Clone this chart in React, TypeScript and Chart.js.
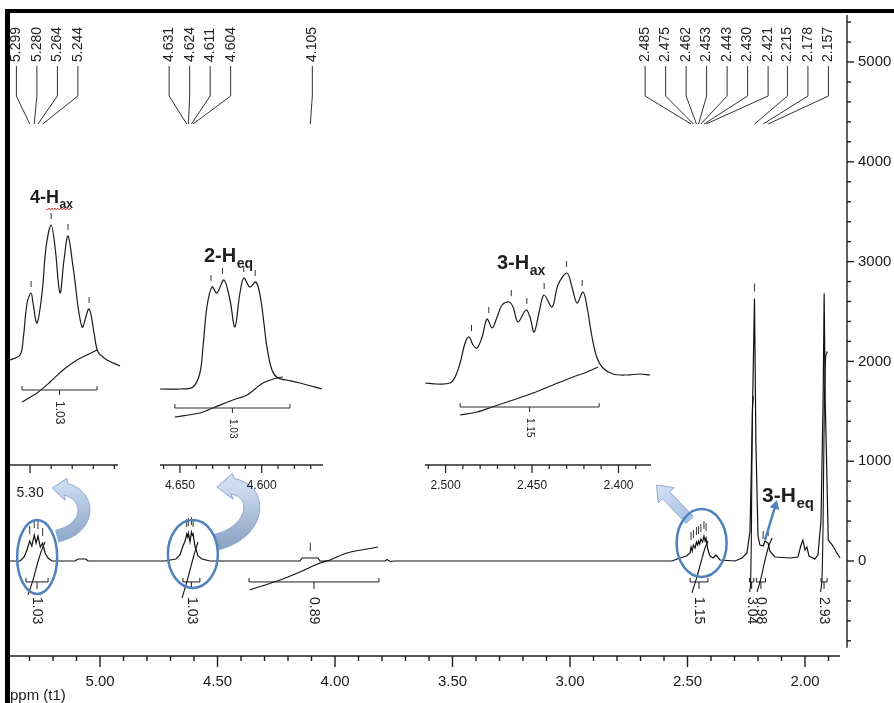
import React, { useEffect, useRef } from "react";
import { Chart, registerables } from "chart.js";

Chart.register(...registerables);

const FONT = "'Liberation Sans', Arial, Helvetica, sans-serif";
Chart.defaults.font.family = FONT;

// ---------------- main spectrum (ppm / intensity) ----------------
const mainPpm = [
  5.383, 5.34, 5.323, 5.311, 5.299, 5.29, 5.28, 5.272, 5.264, 5.254, 5.244, 5.234, 5.221, 5.204,
  5.106, 5.094, 5.06, 5.051, 4.723, 4.677, 4.66, 4.647, 4.638, 4.631, 4.627, 4.624, 4.617, 4.611,
  4.607, 4.604, 4.595, 4.583, 4.566, 4.532, 4.149, 4.14, 4.072, 4.064, 3.787, 3.779, 3.766, 3.75,
  2.566, 2.532, 2.505, 2.489, 2.485, 2.48, 2.475, 2.468, 2.462, 2.457, 2.453, 2.448, 2.443, 2.436,
  2.43, 2.425, 2.421, 2.413, 2.404, 2.391, 2.379, 2.362, 2.298, 2.268, 2.247, 2.234, 2.225, 2.215,
  2.209, 2.2, 2.192, 2.178, 2.17, 2.157, 2.15, 2.128, 2.064, 2.03, 2.017, 2.009, 2.0, 1.992, 1.983,
  1.958, 1.945, 1.932, 1.923, 1.9185, 1.914, 1.91, 1.901, 1.884, 1.867, 1.851,
];
const mainIntensity = [
  0, 0, 40, 110, 200, 150, 260, 180, 250, 140, 180, 80, 30, 0,
  0, 20, 20, 0, 0, 20, 60, 150, 200, 270, 240, 280, 190, 290,
  260, 270, 140, 50, 20, 0, 0, 30, 30, 0, 0, 15, -5, 0,
  0, 30, 50, 80, 140, 100, 160, 130, 190, 160, 200, 170, 220, 190,
  250, 200, 230, 110, 50, 30, 60, 10, 0, 30, 80, 300, 1300, 2630,
  1200, 250, 160, 150, 200, 180, 100, 40, 30, 40, 160, 210, 110, 140, 50,
  20, 60, 400, 1600, 2680, 1600, 1200, 210, 160, 90, 30,
];

// integral curves of the main spectrum
const integralPpm = [
  [5.306, 5.285, 5.268, 5.251, 5.234],
  [4.651, 4.634, 4.617, 4.6, 4.583],
  [4.362, 4.234, 4.149, 4.064, 4.021, 3.949, 3.817],
  [2.481, 2.46, 2.4425, 2.4255, 2.413],
  [2.236, 2.232, 2.228, 2.224, 2.22],
  [2.204, 2.187, 2.17, 2.153, 2.14],
  [1.934, 1.928, 1.923, 1.918, 1.912, 1.905],
];
const integralValue = [
  [-340, -190, -40, 90, 190],
  [-370, -240, -90, 60, 190],
  [-290, -190, -110, -20, 10, 80, 140],
  [-320, -160, -10, 130, 200],
  [-310, -250, 300, 1500, 1650],
  [-310, -170, 10, 160, 230],
  [-310, -200, 400, 1500, 2050, 2100],
];
const integralRanges = [
  [5.315, 5.221], [4.647, 4.575], [4.366, 3.813], [2.489, 2.413],
  [2.236, 2.218], [2.207, 2.168], [1.932, 1.906],
];
const integralLabels = ["1.03", "1.03", "0.89", "1.15", "3.04", "0.98", "2.93"];

const peakGroups = [
  [5.299, 5.28, 5.264, 5.244],
  [4.631, 4.624, 4.611, 4.604],
  [4.105],
  [2.485, 2.475, 2.462, 2.453, 2.443, 2.43, 2.421],
  [2.215, 2.178, 2.157],
];

const xTickLabels = ["5.00", "4.50", "4.00", "3.50", "3.00", "2.50", "2.00"];
const yTickLabels = ["0", "1000", "2000", "3000", "4000", "5000"];

// ---------------- inset 1 : 4-Hax ----------------
const inset1Ppm = [
  5.319, 5.3095, 5.3066, 5.3028, 5.299, 5.2972, 5.2934, 5.2886, 5.2848, 5.28, 5.2763,
  5.2716, 5.2678, 5.264, 5.2592, 5.2507, 5.2441, 5.2393, 5.2355, 5.227, 5.2166, 5.2147,
];
const inset1Intensity = [5, 10, 25, 62, 72, 62, 42, 72, 118, 140, 118, 72, 105, 129, 98, 38, 56, 32, 13, 5, 0, -1];
const inset1IntegralPpm = [5.3076, 5.2934, 5.281, 5.2687, 5.2555, 5.246, 5.2365];
const inset1IntegralValue = [-37, -28, -17, -5, 5, 10, 15];
const inset1Range = [5.3076, 5.2365];
const inset1TickLabels = ["5.30"];

// ---------------- inset 2 : 2-Heq ----------------
const inset2Ppm = [
  4.6622, 4.65, 4.642, 4.6378, 4.6359, 4.6335, 4.6304, 4.6274, 4.6231, 4.6194, 4.6164,
  4.6133, 4.6109, 4.6072, 4.6035, 4.6005, 4.5968, 4.5937, 4.5901, 4.5846, 4.5766, 4.5631,
];
const inset2Intensity = [-24, -24, -22, -8, 18, 58, 78, 72, 85, 65, 38, 72, 87, 78, 83, 65, 18, -5, -13, -15, -18, -24];
const inset2IntegralPpm = [4.6531, 4.6378, 4.6298, 4.6176, 4.609, 4.5992, 4.5907, 4.587];
const inset2IntegralValue = [-52, -48, -43, -35, -30, -18, -13, -12];
const inset2Range = [4.6531, 4.5827];
const inset2TickLabels = ["4.650", "4.600"];

// ---------------- inset 3 : 3-Hax ----------------
const inset3Ppm = [
  2.5118, 2.5049, 2.4974, 2.4945, 2.4916, 2.4887, 2.4864, 2.4841, 2.4818, 2.4789, 2.476, 2.4731,
  2.4702, 2.4673, 2.4633, 2.461, 2.4581, 2.4535, 2.4512, 2.4488, 2.446, 2.4431, 2.4384, 2.435,
  2.4298, 2.4269, 2.424, 2.4205, 2.4182, 2.4153, 2.4124, 2.409, 2.4032, 2.3951, 2.3876, 2.3818,
];
const inset3Intensity = [
  -18, -19, -18, -12, 2, 22, 28, 20, 17, 28, 46, 37, 48, 60, 63, 58, 43, 55, 48, 33, 52, 70, 58, 80,
  92, 78, 62, 73, 58, 28, 7, -3, -9, -10, -9, -10,
];
const inset3IntegralPpm = [2.4916, 2.4818, 2.4731, 2.461, 2.4494, 2.4379, 2.4263, 2.4182, 2.4118];
const inset3IntegralValue = [-50, -47, -42, -35, -28, -20, -12, -7, -2];
const inset3Range = [2.4916, 2.4112];
const inset3TickLabels = ["2.500", "2.450", "2.400"];

// ---------------- layout / style ----------------
const W = 894;
const H = 703;
const INK = "#1c1c1c";
const X_MIN = 1.8213;
const X_MAX = 5.383;
const Y_MIN = -952;
const Y_MAX = 5511;
const X_AXIS_END = 1.851;
const Y_AXIS_TOP = 5470;
const Y_AXIS_BOTTOM = -870;
const BRACKET_VALUE = -210;
const LABEL_GAP = 20.5;
const LABEL_SHIFT = [11, 10, 2, 8, 46];

const pts = (xs: number[], ys: number[]) => xs.map((x, i) => ({ x, y: ys[i] }));

function seg(ctx: CanvasRenderingContext2D, x1: number, y1: number, x2: number, y2: number) {
  ctx.beginPath();
  ctx.moveTo(x1, y1);
  ctx.lineTo(x2, y2);
  ctx.stroke();
}

function textUp(ctx: CanvasRenderingContext2D, s: string, x: number, yBottom: number, font: string) {
  ctx.save();
  ctx.translate(x, yBottom);
  ctx.rotate(-Math.PI / 2);
  ctx.font = font;
  ctx.textAlign = "left";
  ctx.textBaseline = "middle";
  ctx.fillText(s, 0, 0);
  ctx.restore();
}

function textDown(ctx: CanvasRenderingContext2D, s: string, x: number, yTop: number, font: string) {
  ctx.save();
  ctx.translate(x, yTop);
  ctx.rotate(Math.PI / 2);
  ctx.font = font;
  ctx.textAlign = "left";
  ctx.textBaseline = "middle";
  ctx.fillText(s, 0, 0);
  ctx.restore();
}

function peakHeight(xs: number[], ys: number[], p: number, tol: number) {
  let best = -Infinity;
  for (let i = 0; i < xs.length; i++) if (Math.abs(xs[i] - p) <= tol) best = Math.max(best, ys[i]);
  for (let i = 0; i < xs.length - 1; i++) {
    const a = xs[i], b = xs[i + 1];
    if ((p - a) * (p - b) <= 0 && a !== b) {
      const t = (p - a) / (b - a);
      best = Math.max(best, ys[i] + t * (ys[i + 1] - ys[i]));
    }
  }
  return best;
}

function drawTitle(ctx: CanvasRenderingContext2D, x: number, y: number, main: string, sub: string, size: number, subSize: number) {
  ctx.save();
  ctx.fillStyle = "#1f1f1f";
  ctx.textAlign = "left";
  ctx.textBaseline = "alphabetic";
  ctx.font = `bold ${size}px ${FONT}`;
  ctx.fillText(main, x, y);
  const w = ctx.measureText(main).width;
  const hw = ctx.measureText("H").width;
  ctx.font = `bold ${subSize}px ${FONT}`;
  ctx.fillText(sub, x + w + 0.5, y + size * 0.28);
  const sw = ctx.measureText(sub).width;
  ctx.restore();
  return { hStart: x + w - hw, end: x + w + 0.5 + sw };
}

function bezier(p: number[][], n: number) {
  const out: number[][] = [];
  for (let i = 0; i <= n; i++) {
    const t = i / n, u = 1 - t;
    out.push([
      u * u * u * p[0][0] + 3 * u * u * t * p[1][0] + 3 * u * t * t * p[2][0] + t * t * t * p[3][0],
      u * u * u * p[0][1] + 3 * u * u * t * p[1][1] + 3 * u * t * t * p[2][1] + t * t * t * p[3][1],
    ]);
  }
  return out;
}

function blockArrow(ctx: CanvasRenderingContext2D, line: number[][], halfW: number, headHalfW: number, headLen: number, c0: string, c1: string) {
  const L = [0];
  for (let i = 1; i < line.length; i++) L.push(L[i - 1] + Math.hypot(line[i][0] - line[i - 1][0], line[i][1] - line[i - 1][1]));
  const cut = L[L.length - 1] - headLen;
  const body: number[][] = [];
  for (let i = 0; i < line.length; i++) {
    if (L[i] <= cut) body.push(line[i]);
    else {
      const t = (cut - L[i - 1]) / (L[i] - L[i - 1]);
      body.push([line[i - 1][0] + t * (line[i][0] - line[i - 1][0]), line[i - 1][1] + t * (line[i][1] - line[i - 1][1])]);
      break;
    }
  }
  const tip = line[line.length - 1];
  const left: number[][] = [], right: number[][] = [];
  for (let i = 0; i < body.length; i++) {
    const a = body[Math.max(0, i - 1)], b = body[Math.min(body.length - 1, i + 1)];
    const dx = b[0] - a[0], dy = b[1] - a[1];
    const l = Math.hypot(dx, dy) || 1;
    const nx = -dy / l, ny = dx / l;
    left.push([body[i][0] + nx * halfW, body[i][1] + ny * halfW]);
    right.push([body[i][0] - nx * halfW, body[i][1] - ny * halfW]);
  }
  const B = body[body.length - 1];
  const dx = tip[0] - B[0], dy = tip[1] - B[1];
  const l = Math.hypot(dx, dy) || 1;
  const nx = -dy / l, ny = dx / l;
  ctx.save();
  const g = ctx.createLinearGradient(line[0][0], line[0][1], tip[0], tip[1]);
  g.addColorStop(0, c0);
  g.addColorStop(1, c1);
  ctx.beginPath();
  ctx.moveTo(left[0][0], left[0][1]);
  for (const p of left) ctx.lineTo(p[0], p[1]);
  ctx.lineTo(B[0] + nx * headHalfW, B[1] + ny * headHalfW);
  ctx.lineTo(tip[0], tip[1]);
  ctx.lineTo(B[0] - nx * headHalfW, B[1] - ny * headHalfW);
  for (let i = right.length - 1; i >= 0; i--) ctx.lineTo(right[i][0], right[i][1]);
  ctx.closePath();
  ctx.fillStyle = g;
  ctx.fill();
  ctx.strokeStyle = "#8ea9d2";
  ctx.lineWidth = 1;
  ctx.stroke();
  ctx.restore();
}

// ellipse highlight layout: group index, dx, dy, rx, ry
const HIGHLIGHTS = [
  { group: 0, dx: 1, dy: -4, rx: 20, ry: 37 },
  { group: 1, dx: 3, dy: -7, rx: 25, ry: 34 },
  { group: 3, dx: 3, dy: -18, rx: 25, ry: 34 },
];

const noScalePadding = (s: any, size: { height?: number; width?: number }) => {
  if (size.height !== undefined) s.height = size.height;
  if (size.width !== undefined) s.width = size.width;
  s.paddingLeft = 0;
  s.paddingRight = 0;
  s.paddingTop = 0;
  s.paddingBottom = 0;
};

const mainDecor = {
  id: "mainDecor",
  afterDatasetsDraw(chart: any) {
    const ctx: CanvasRenderingContext2D = chart.ctx;
    const a = chart.chartArea;
    const xs = chart.scales.x, ys = chart.scales.y;
    const X = (v: number) => xs.getPixelForValue(v);
    const Y = (v: number) => ys.getPixelForValue(v);
    ctx.save();
    // axes
    ctx.strokeStyle = INK;
    ctx.lineWidth = 1.4;
    seg(ctx, a.left, a.bottom, X(X_AXIS_END), a.bottom);
    for (const t of xs.ticks) {
      if (t.value < X_AXIS_END) continue;
      const x = X(t.value);
      seg(ctx, x, a.bottom, x, a.bottom + (t.label ? 11 : 5));
    }
    seg(ctx, a.right, Y(Y_AXIS_TOP), a.right, Y(Y_AXIS_BOTTOM));
    for (const t of ys.ticks) {
      const y = Y(t.value);
      seg(ctx, a.right, y, a.right + (t.label ? 7 : 4), y);
    }
    // peak annotations
    ctx.lineWidth = 1;
    ctx.strokeStyle = "#333";
    ctx.fillStyle = "#222";
    peakGroups.forEach((g, gi) => {
      const px = g.map(X);
      const mean = px.reduce((s, v) => s + v, 0) / px.length;
      g.forEach((p, i) => {
        const lx = mean + LABEL_SHIFT[gi] + (i - (g.length - 1) / 2) * LABEL_GAP;
        textUp(ctx, p.toFixed(3), lx, 62, `14px ${FONT}`);
        ctx.beginPath();
        ctx.moveTo(lx, 66);
        ctx.lineTo(lx, 96);
        ctx.lineTo(px[i], 124);
        ctx.stroke();
        const y = Y(peakHeight(mainPpm, mainIntensity, p, 0.004));
        seg(ctx, px[i], y - 15, px[i], y - 7);
      });
    });
    // integration brackets
    ctx.strokeStyle = INK;
    ctx.fillStyle = "#222";
    integralRanges.forEach(([p1, p2], i) => {
      const x1 = X(p1), x2 = X(p2), y = Y(BRACKET_VALUE), xm = (x1 + x2) / 2;
      ctx.beginPath();
      ctx.moveTo(x1, y - 4);
      ctx.lineTo(x1, y);
      ctx.lineTo(x2, y);
      ctx.lineTo(x2, y - 4);
      ctx.stroke();
      seg(ctx, xm, y, xm, y + 7);
      textDown(ctx, integralLabels[i], xm, y + 15, `14px ${FONT}`);
    });
    // highlight ellipses + arrows
    const centers = HIGHLIGHTS.map((h) => {
      const g = peakGroups[h.group];
      const cx = g.reduce((s, v) => s + X(v), 0) / g.length + h.dx;
      const cy = Y(0) + h.dy;
      return [cx, cy];
    });
    const [c1, c2, c3] = centers;
    blockArrow(ctx, bezier([[c1[0] + 20, c1[1] - 21], [c1[0] + 58, c1[1] - 29], [c1[0] + 55, c1[1] - 71], [c1[0] + 15, c1[1] - 69]], 30), 6, 11, 14, "#93abcd", "#c9daf0");
    blockArrow(ctx, bezier([[c2[0] + 24, c2[1] - 12], [c2[0] + 72, c2[1] - 24], [c2[0] + 69, c2[1] - 76], [c2[0] + 24, c2[1] - 67]], 30), 8, 13, 16, "#8fa6c6", "#cddcf1");
    blockArrow(ctx, [[c3[0] - 12, c3[1] - 23], [c3[0] - 45, c3[1] - 58]], 5, 11, 14, "#a8c1e3", "#d3e2f5");
    ctx.strokeStyle = "#4f81bd";
    ctx.lineWidth = 2.5;
    HIGHLIGHTS.forEach((h, i) => {
      ctx.beginPath();
      ctx.ellipse(centers[i][0], centers[i][1], h.rx, h.ry, 0, 0, Math.PI * 2);
      ctx.stroke();
    });
    // 3-Heq label + arrow
    const hx = X(2.17), hy = Y(0);
    drawTitle(ctx, hx - 3, hy - 59, "3-H", "eq", 21, 15);
    ctx.strokeStyle = "#4f81bd";
    ctx.fillStyle = "#4f81bd";
    ctx.lineWidth = 2.5;
    const ax0 = hx, ay0 = hy - 21, ax1 = hx + 12, ay1 = hy - 61;
    const ang = Math.atan2(ay1 - ay0, ax1 - ax0);
    seg(ctx, ax0, ay0, ax1 - 6 * Math.cos(ang), ay1 - 6 * Math.sin(ang));
    ctx.beginPath();
    ctx.moveTo(ax1, ay1);
    ctx.lineTo(ax1 - 9 * Math.cos(ang) + 5 * Math.sin(ang), ay1 - 9 * Math.sin(ang) - 5 * Math.cos(ang));
    ctx.lineTo(ax1 - 9 * Math.cos(ang) - 5 * Math.sin(ang), ay1 - 9 * Math.sin(ang) + 5 * Math.cos(ang));
    ctx.closePath();
    ctx.fill();
    // axis title
    ctx.fillStyle = "#1a1a1a";
    ctx.font = `15px ${FONT}`;
    ctx.textAlign = "left";
    ctx.textBaseline = "middle";
    ctx.fillText("ppm (t1)", 10, 696);
    // frame
    ctx.fillStyle = "#000";
    ctx.fillRect(5, 9, W - 5, 4);
    ctx.fillRect(5, 9, 5, H - 9);
    ctx.restore();
  },
};

function mainConfig(): any {
  return {
    type: "scatter",
    data: {
      datasets: [
        { data: pts(mainPpm, mainIntensity), showLine: true, borderColor: "#111", borderWidth: 1.2, pointRadius: 0, tension: 0 },
        ...integralPpm.map((p, i) => ({
          data: pts(p, integralValue[i]),
          showLine: true,
          borderColor: "#111",
          borderWidth: 1.1,
          pointRadius: 0,
          tension: 0.3,
        })),
      ],
    },
    options: {
      responsive: false,
      animation: false,
      devicePixelRatio: 1,
      events: [],
      layout: { padding: { left: 10, top: 11, right: 0, bottom: 0 } },
      plugins: { legend: { display: false }, tooltip: { enabled: false } },
      scales: {
        x: {
          type: "linear",
          reverse: true,
          min: X_MIN,
          max: X_MAX,
          position: "bottom",
          grid: { display: false, drawTicks: false },
          border: { display: false },
          ticks: {
            stepSize: 0.1,
            autoSkip: false,
            maxRotation: 0,
            includeBounds: false,
            padding: 17,
            color: "#1a1a1a",
            font: { size: 15, family: FONT },
            callback: (v: number) => (xTickLabels.includes(v.toFixed(2)) ? v.toFixed(2) : ""),
          },
          afterFit: (s: any) => noScalePadding(s, { height: 47 }),
        },
        y: {
          type: "linear",
          position: "right",
          min: Y_MIN,
          max: Y_MAX,
          grid: { display: false, drawTicks: false },
          border: { display: false },
          ticks: {
            stepSize: 200,
            autoSkip: false,
            includeBounds: false,
            padding: 11,
            color: "#1a1a1a",
            font: { size: 15, family: FONT },
            callback: (v: number) => (yTickLabels.includes(String(Math.round(v))) ? String(Math.round(v)) : ""),
          },
          afterFit: (s: any) => noScalePadding(s, { width: 47 }),
        },
      },
    },
    plugins: [mainDecor],
  };
}

// ---------------- insets ----------------
const INSETS = [
  {
    ppm: inset1Ppm, val: inset1Intensity, intPpm: inset1IntegralPpm, intVal: inset1IntegralValue,
    range: inset1Range, rangeVal: -25, intLabel: "1.03", peaks: peakGroups[0], tickLabels: inset1TickLabels,
    decimals: 2, step: 0.02, min: 5.2166, max: 5.319,
    area: { left: 10, right: 118, top: 170, bottom: 465 }, labelSize: 14, labelPad: 20, intFont: 12,
    title: { x: 30, y: 203, main: "4-H", sub: "ax", size: 18, subSize: 12, squiggle: true },
  },
  {
    ppm: inset2Ppm, val: inset2Intensity, intPpm: inset2IntegralPpm, intVal: inset2IntegralValue,
    range: inset2Range, rangeVal: -43, intLabel: "1.03", peaks: peakGroups[1], tickLabels: inset2TickLabels,
    decimals: 3, step: 0.01, min: 4.5625, max: 4.6622,
    area: { left: 160, right: 323, top: 170, bottom: 465 }, labelSize: 12, labelPad: 13, intFont: 10,
    title: { x: 204, y: 262, main: "2-H", sub: "eq", size: 20, subSize: 14, squiggle: false },
  },
  {
    ppm: inset3Ppm, val: inset3Intensity, intPpm: inset3IntegralPpm, intVal: inset3IntegralValue,
    range: inset3Range, rangeVal: -42, intLabel: "1.15", peaks: peakGroups[3], tickLabels: inset3TickLabels,
    decimals: 3, step: 0.01, min: 2.3812, max: 2.5119,
    area: { left: 425, right: 651, top: 170, bottom: 465 }, labelSize: 12, labelPad: 13, intFont: 10,
    title: { x: 497, y: 269, main: "3-H", sub: "ax", size: 20, subSize: 14, squiggle: false },
  },
];

function insetConfig(s: any): any {
  const plugin = {
    id: "insetDecor",
    afterDatasetsDraw(chart: any) {
      const ctx: CanvasRenderingContext2D = chart.ctx;
      const a = chart.chartArea;
      const xs = chart.scales.x, ys = chart.scales.y;
      const X = (v: number) => xs.getPixelForValue(v);
      const Y = (v: number) => ys.getPixelForValue(v);
      ctx.save();
      ctx.strokeStyle = "#2a2a2a";
      ctx.lineWidth = 1.3;
      seg(ctx, a.left, a.bottom, a.right, a.bottom);
      for (const t of xs.ticks) {
        const x = X(t.value);
        seg(ctx, x, a.bottom, x, a.bottom + (t.label ? 8 : 4));
      }
      ctx.lineWidth = 1;
      ctx.strokeStyle = "#333";
      for (const p of s.peaks) {
        const y = Y(peakHeight(s.ppm, s.val, p, 0.002));
        seg(ctx, X(p), y - 12, X(p), y - 6);
      }
      const x1 = X(s.range[0]), x2 = X(s.range[1]), y = Y(s.rangeVal), xm = (x1 + x2) / 2;
      ctx.strokeStyle = "#2a2a2a";
      ctx.beginPath();
      ctx.moveTo(x1, y - 4);
      ctx.lineTo(x1, y);
      ctx.lineTo(x2, y);
      ctx.lineTo(x2, y - 4);
      ctx.stroke();
      seg(ctx, xm, y, xm, y + 5);
      ctx.fillStyle = "#222";
      textDown(ctx, s.intLabel, xm, y + 11, `${s.intFont}px ${FONT}`);
      const t = s.title;
      const ext = drawTitle(ctx, t.x, t.y, t.main, t.sub, t.size, t.subSize);
      if (t.squiggle) {
        ctx.strokeStyle = "#e0342c";
        ctx.lineWidth = 0.9;
        ctx.beginPath();
        const yy = t.y + 6;
        let up = true;
        for (let x = ext.hStart; x <= ext.end; x += 1.5) {
          if (x === ext.hStart) ctx.moveTo(x, yy);
          else ctx.lineTo(x, yy + (up ? -1 : 1));
          up = !up;
        }
        ctx.stroke();
      }
      ctx.restore();
    },
  };
  return {
    type: "scatter",
    data: {
      datasets: [
        { data: pts(s.ppm, s.val), showLine: true, borderColor: "#1a1a1a", borderWidth: 1.2, pointRadius: 0, tension: 0.35, clip: false },
        { data: pts(s.intPpm, s.intVal), showLine: true, borderColor: "#1a1a1a", borderWidth: 1.1, pointRadius: 0, tension: 0.3, clip: false },
      ],
    },
    options: {
      responsive: false,
      animation: false,
      devicePixelRatio: 1,
      events: [],
      layout: { padding: { left: s.area.left, right: W - s.area.right, top: s.area.top, bottom: H - s.area.bottom - 40 } },
      plugins: { legend: { display: false }, tooltip: { enabled: false } },
      scales: {
        x: {
          type: "linear",
          reverse: true,
          min: s.min,
          max: s.max,
          grid: { display: false, drawTicks: false },
          border: { display: false },
          ticks: {
            stepSize: s.step,
            autoSkip: false,
            maxRotation: 0,
            includeBounds: false,
            padding: s.labelPad,
            color: "#1a1a1a",
            font: { size: s.labelSize, family: FONT },
            callback: (v: number) => (s.tickLabels.includes(v.toFixed(s.decimals)) ? v.toFixed(s.decimals) : ""),
          },
          afterFit: (sc: any) => noScalePadding(sc, { height: 40 }),
        },
        y: { display: false, min: -100, max: 195 },
      },
    },
    plugins: [plugin],
  };
}

export default function App() {
  const mainRef = useRef<HTMLCanvasElement>(null);
  const r1 = useRef<HTMLCanvasElement>(null);
  const r2 = useRef<HTMLCanvasElement>(null);
  const r3 = useRef<HTMLCanvasElement>(null);
  useEffect(() => {
    document.body.style.margin = "0";
    const charts: Chart[] = [];
    charts.push(new Chart(mainRef.current as HTMLCanvasElement, mainConfig()));
    [r1, r2, r3].forEach((r, i) => {
      charts.push(new Chart(r.current as HTMLCanvasElement, insetConfig(INSETS[i])));
    });
    return () => charts.forEach((c) => c.destroy());
  }, []);
  const cs: React.CSSProperties = { position: "absolute", left: 0, top: 0 };
  return (
    <div style={{ position: "relative", width: W, height: H, overflow: "hidden", background: "#fff" }}>
      <canvas ref={mainRef} width={W} height={H} style={cs} />
      <canvas ref={r1} width={W} height={H} style={cs} />
      <canvas ref={r2} width={W} height={H} style={cs} />
      <canvas ref={r3} width={W} height={H} style={cs} />
    </div>
  );
}
